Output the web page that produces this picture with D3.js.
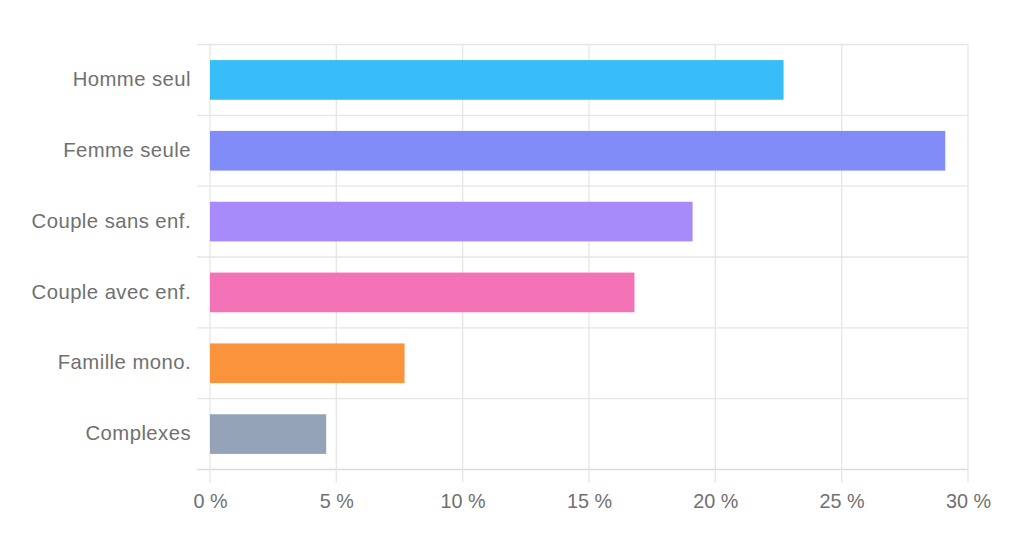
<!DOCTYPE html>
<html>
<head>
<meta charset="utf-8">
<script src="https://cdn.jsdelivr.net/npm/d3@7"></script>
<style>
  html, body { margin: 0; padding: 0; background: #fff; }
  svg { display: block; }
  text { font-family: "Liberation Sans", Arial, sans-serif; fill: #707070; }
</style>
</head>
<body>
<svg id="chart" width="1024" height="547"></svg>
<script>
const categories = ["Homme seul", "Femme seule", "Couple sans enf.", "Couple avec enf.", "Famille mono.", "Complexes"];
const values = [22.7, 29.1, 19.1, 16.8, 7.7, 4.6];
const colors = ["#38bdf8", "#818cf8", "#a78bfa", "#f472b6", "#fb923c", "#94a3b8"];
const tickValues = [0, 5, 10, 15, 20, 25, 30];

const svg = d3.select("#chart");
const plotLeft = 210, plotRight = 968, plotTop = 44.5, plotBottom = 469.5;

const x = d3.scaleLinear().domain([0, 30]).range([plotLeft, plotRight]);
const y = d3.scaleBand().domain(categories).range([plotTop, plotBottom]).paddingInner(0.44).paddingOuter(0.22);

const gridColor = "#e6e6e6";
const step = y.step();

// horizontal grid lines (category boundaries)
const bounds = d3.range(categories.length + 1).map(i => plotTop + i * step);
svg.append("g").selectAll("line").data(bounds).join("line")
  .attr("x1", plotLeft - 13).attr("x2", plotRight)
  .attr("y1", d => d).attr("y2", d => d)
  .attr("stroke", (d, i) => i === categories.length ? "#dcdcdc" : gridColor)
  .attr("stroke-width", 1.3);

// vertical grid lines
svg.append("g").selectAll("line").data(tickValues).join("line")
  .attr("x1", d => x(d)).attr("x2", d => x(d))
  .attr("y1", plotTop).attr("y2", plotBottom + 13)
  .attr("stroke", gridColor).attr("stroke-width", 1.3);

// bars
svg.append("g").selectAll("rect").data(categories).join("rect")
  .attr("x", x(0))
  .attr("y", d => y(d))
  .attr("width", (d, i) => x(values[i]) - x(0))
  .attr("height", y.bandwidth())
  .attr("fill", (d, i) => colors[i]);

// x axis tick labels
const xAxis = d3.axisBottom(x).tickValues(tickValues).tickFormat(d => d + " %").tickSize(0).tickPadding(0);
const gx = svg.append("g").attr("transform", `translate(0, ${plotBottom})`).call(xAxis);
gx.select(".domain").remove();
gx.selectAll("text").attr("y", 38).attr("dy", 0)
  .style("font-size", "19.8px").style("fill", "#707070");

// y axis labels
const yAxis = d3.axisLeft(y).tickSize(0).tickPadding(0);
const gy = svg.append("g").attr("transform", `translate(${plotLeft - 19}, 0)`).call(yAxis);
gy.select(".domain").remove();
gy.selectAll("text").attr("dy", "0.3em")
  .style("font-size", "20.3px").style("fill", "#707070").style("letter-spacing", "0.45px");
</script>
</body>
</html>
